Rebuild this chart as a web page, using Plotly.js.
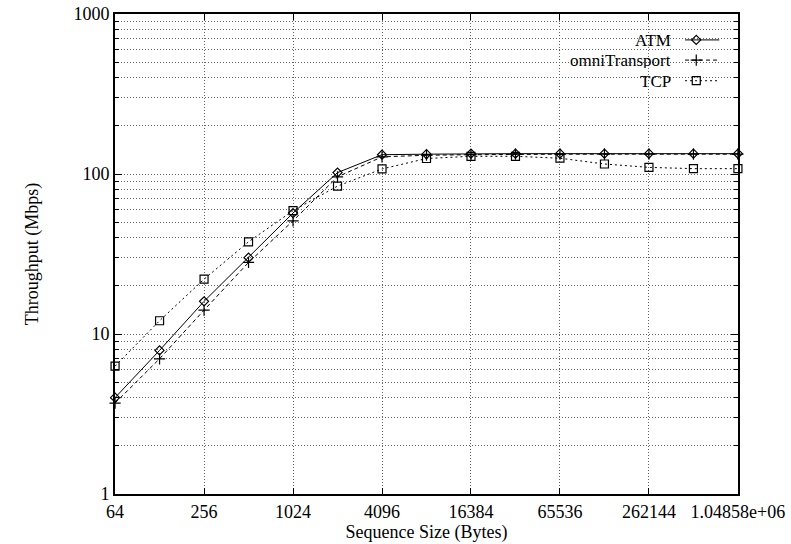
<!DOCTYPE html>
<html>
<head>
<meta charset="utf-8">
<script src="https://cdn.plot.ly/plotly-3.0.1.min.js"></script>
<style>html,body{margin:0;padding:0;background:#fff;}#chart{width:791px;height:544px;}</style>
</head>
<body>
<div id="chart"></div>
<script>
// Data
const sizes = [64, 128, 256, 512, 1024, 2048, 4096, 8192, 16384, 32768, 65536, 131072, 262144, 524288, 1048576];
const atm = [4.0, 7.9, 16, 30, 57, 102, 132, 133, 134, 134, 134, 134, 134, 134, 134];
const omniTransport = [3.7, 7.0, 14.1, 28, 51, 96, 128, 131, 132, 133, 133, 133, 133, 133, 133];
const tcp = [6.3, 12.1, 22, 37.7, 59, 84, 107.5, 125, 129, 129, 125.5, 115.5, 110, 108, 108];
const xTickVals = [64, 256, 1024, 4096, 16384, 65536, 262144, 1048576];
const xTickText = ["64", "256", "1024", "4096", "16384", "65536", "262144", "1.04858e+06"];
const yTickVals = [1, 10, 100, 1000];
const yTickText = ["1", "10", "100", "1000"];
const seriesNames = ["ATM", "omniTransport", "TCP"];

const FONT = "Liberation Serif";
const styles = [
  {dash: "solid", symbol: "diamond-open", size: 7},
  {dash: "4px,3px", symbol: "cross-thin-open", size: 8},
  {dash: "2px,3px", symbol: "square-open", size: 8}
];
const series = [atm, omniTransport, tcp];

const traces = series.map((ys, i) => ({
  x: sizes, y: ys, type: "scatter", mode: "lines+markers", name: seriesNames[i],
  line: {color: "#000", width: 1, dash: styles[i].dash},
  marker: {symbol: styles[i].symbol, size: styles[i].size, color: "#000", line: {color: "#000", width: 1.2}},
  showlegend: false, cliponaxis: false
}));

// Manual legend (text on left, sample on right), in an overlay axis of 0..1
const legY = [0.946, 0.904, 0.861];
const legAnn = [];
seriesNames.forEach((n, i) => {
  legAnn.push({xref: "paper", yref: "paper", x: 0.895, y: legY[i], xanchor: "right", yanchor: "middle",
    height: 16, text: n, showarrow: false, font: {family: FONT, size: 17, color: "#000"}});
  traces.push({
    x: [0.915, 0.97], y: [legY[i], legY[i]], xaxis: "x2", yaxis: "y2", type: "scatter", mode: "lines",
    line: {color: "#000", width: 1, dash: styles[i].dash}, showlegend: false, hoverinfo: "skip"
  });
  traces.push({
    x: [0.933], y: [legY[i]], xaxis: "x2", yaxis: "y2", type: "scatter", mode: "markers",
    marker: {symbol: styles[i].symbol, size: styles[i].size, color: "#000", line: {color: "#000", width: 1.2}},
    showlegend: false, hoverinfo: "skip"
  });
});

const GRID = "#666";
const layout = {
  width: 791, height: 544,
  margin: {l: 115, r: 53, t: 14, b: 50},
  paper_bgcolor: "#fff", plot_bgcolor: "#fff",
  font: {family: FONT, size: 18, color: "#000"},
  showlegend: false,
  xaxis: {
    type: "log", range: [Math.log10(64) - 0.0005, Math.log10(1048576) + 0.0005],
    tickvals: xTickVals, ticktext: xTickText,
    ticks: "inside", ticklen: 6, tickcolor: "#000", tickwidth: 1,
    showline: true, linecolor: "#000", linewidth: 2, mirror: "ticks",
    showgrid: true, gridcolor: GRID, griddash: "1px,2px", gridwidth: 1,
    zeroline: false,
    tickfont: {family: FONT, size: 18, color: "#000"},
    title: {text: "Sequence Size (Bytes)", font: {family: FONT, size: 18, color: "#000"}, standoff: 0}
  },
  yaxis: {
    type: "log", range: [0, 3],
    tickvals: yTickVals, ticktext: yTickText,
    ticks: "inside", ticklen: 7, tickcolor: "#000", tickwidth: 1,
    showline: true, linecolor: "#000", linewidth: 2, mirror: "ticks",
    showgrid: true, gridcolor: GRID, griddash: "1px,2px", gridwidth: 1,
    minor: {dtick: "D1", ticks: "inside", ticklen: 4, tickcolor: "#000", showgrid: true, gridcolor: GRID, griddash: "1px,2px", gridwidth: 1},
    zeroline: false,
    tickfont: {family: FONT, size: 18, color: "#000"},
    title: {text: "Throughput (Mbps)", font: {family: FONT, size: 18, color: "#000"}, standoff: 30}
  },
  xaxis2: {overlaying: "x", range: [0, 1], visible: false, fixedrange: true},
  yaxis2: {overlaying: "y", range: [0, 1], visible: false, fixedrange: true},
  annotations: legAnn
};

Plotly.newPlot("chart", traces, layout, {displayModeBar: false, staticPlot: true});
</script>
</body>
</html>
